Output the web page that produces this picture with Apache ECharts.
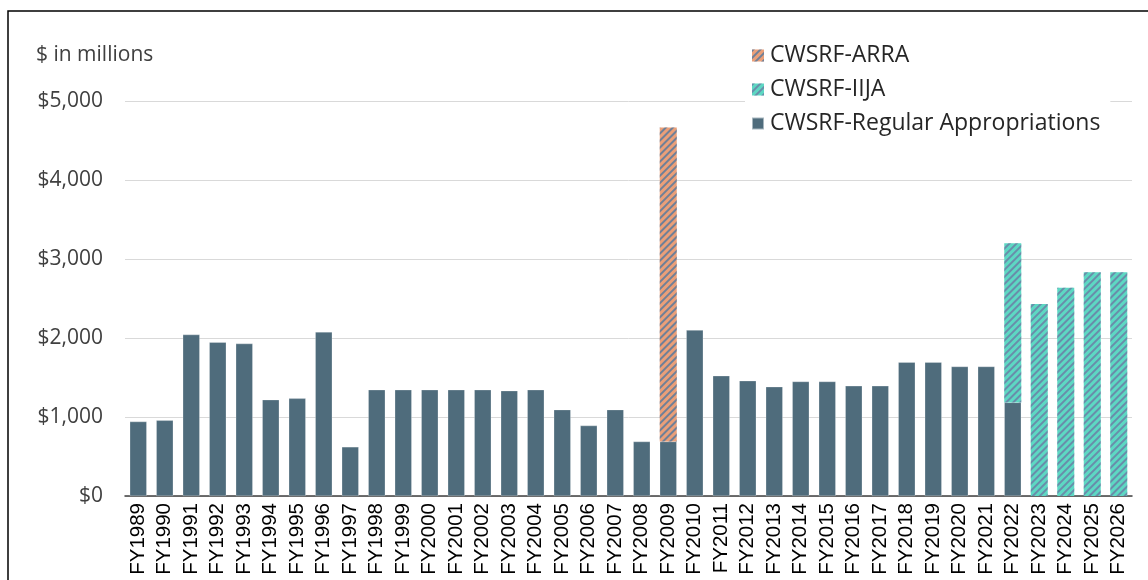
<!DOCTYPE html>
<html>
<head>
<meta charset="utf-8">
<script src="https://cdn.jsdelivr.net/npm/echarts@6/dist/echarts.min.js"></script>
<style>
  html, body { margin: 0; padding: 0; background: #fff; }
  #chart { width: 1148px; height: 580px; }
</style>
</head>
<body>
<div id="chart"></div>
<script>
const years = [
  'FY1989', 'FY1990', 'FY1991', 'FY1992', 'FY1993', 'FY1994', 'FY1995', 'FY1996', 'FY1997', 'FY1998',
  'FY1999', 'FY2000', 'FY2001', 'FY2002', 'FY2003', 'FY2004', 'FY2005', 'FY2006', 'FY2007', 'FY2008',
  'FY2009', 'FY2010', 'FY2011', 'FY2012', 'FY2013', 'FY2014', 'FY2015', 'FY2016', 'FY2017', 'FY2018',
  'FY2019', 'FY2020', 'FY2021', 'FY2022', 'FY2023', 'FY2024', 'FY2025', 'FY2026'
]
// regular appropriations
const regular = [
  942, 958, 2043, 1946, 1929, 1219, 1236, 2077, 622, 1345,
  1345, 1345, 1345, 1345, 1333, 1345, 1093, 891, 1093, 689,
  689, 2100, 1522, 1459, 1383, 1449, 1449, 1394, 1394, 1694,
  1694, 1639, 1639, 1185, null, null, null, null
]
const arra = [
  null, null, null, null, null, null, null, null, null, null,
  null, null, null, null, null, null, null, null, null, null,
  3977, null, null, null, null, null, null, null, null, null,
  null, null, null, null, null, null, null, null
]
const iija = [
  null, null, null, null, null, null, null, null, null, null,
  null, null, null, null, null, null, null, null, null, null,
  null, null, null, null, null, null, null, null, null, null,
  null, null, null, 2013, 2430, 2637, 2832, 2832
]
const yTicks = [0, 1000, 2000, 3000, 4000, 5000]

const calibriLike = '"Open Sans", Lato, sans-serif'

const hatch = color => ({
  symbol: 'rect',
  symbolSize: 1,
  color: color,
  dashArrayX: [1, 0],
  dashArrayY: [1.5, 3],
  rotation: -Math.PI / 4
})

const option = {
  animation: false,
  backgroundColor: '#fff',
  graphic: [
    {
      type: 'rect',
      shape: { x: 8, y: 11, width: 1300, height: 640 },
      style: { fill: 'none', stroke: '#000', lineWidth: 1.5 },
      z: 100
    },
    {
      type: 'text',
      left: 36,
      top: 45,
      style: { text: '$ in millions', font: '21px ' + calibriLike, fill: '#404040' }
    }
  ],
  legend: {
    orient: 'vertical',
    left: 745,
    top: 39,
    itemWidth: 12,
    itemHeight: 12,
    itemGap: 11,
    padding: [5, 10, 4, 6],
    backgroundColor: '#fff',
    icon: 'rect',
    data: ['CWSRF-ARRA', 'CWSRF-IIJA', 'CWSRF-Regular Appropriations'],
    textStyle: { fontFamily: calibriLike, fontSize: 23, color: '#262626', padding: [0, 0, 0, 1] }
  },
  grid: {
    left: 125,
    right: 16,
    top: 101,
    bottom: 84,
    containLabel: false
  },
  xAxis: {
    type: 'category',
    data: years,
    axisLine: { lineStyle: { color: '#404040', width: 1.5 } },
    axisTick: { show: false },
    axisLabel: {
      rotate: 90,
      interval: 0,
      margin: 7,
      fontFamily: '"Liberation Sans", Arial, sans-serif',
      fontSize: 20.5,
      color: '#000'
    }
  },
  yAxis: {
    type: 'value',
    min: yTicks[0],
    max: yTicks[yTicks.length - 1],
    interval: 1000,
    axisLine: { show: false },
    axisTick: { show: false },
    splitLine: { lineStyle: { color: '#d9d9d9', width: 1 } },
    axisLabel: {
      margin: 22,
      fontFamily: calibriLike,
      fontSize: 21,
      color: '#404040',
      formatter: v => '$' + v.toLocaleString('en-US')
    }
  },
  series: [
    {
      name: 'CWSRF-Regular Appropriations',
      type: 'bar',
      stack: 'total',
      barWidth: 17,
      data: regular,
      itemStyle: { color: '#4f6c7c', borderColor: 'rgba(255,255,255,0.5)', borderWidth: 0.5 },
      z: 2
    },
    {
      name: 'CWSRF-ARRA',
      type: 'bar',
      stack: 'total',
      barWidth: 17,
      data: arra,
      itemStyle: { color: '#eb9f78', decal: hatch('rgba(80,120,160,0.8)') }
    },
    {
      name: 'CWSRF-IIJA',
      type: 'bar',
      stack: 'total',
      barWidth: 17,
      data: iija,
      itemStyle: { color: '#5dd8c3', decal: hatch('rgba(110,110,160,0.7)') }
    }
  ]
}

const chart = echarts.init(document.getElementById('chart'), null, { renderer: 'canvas' })
chart.setOption(option)
</script>
</body>
</html>
